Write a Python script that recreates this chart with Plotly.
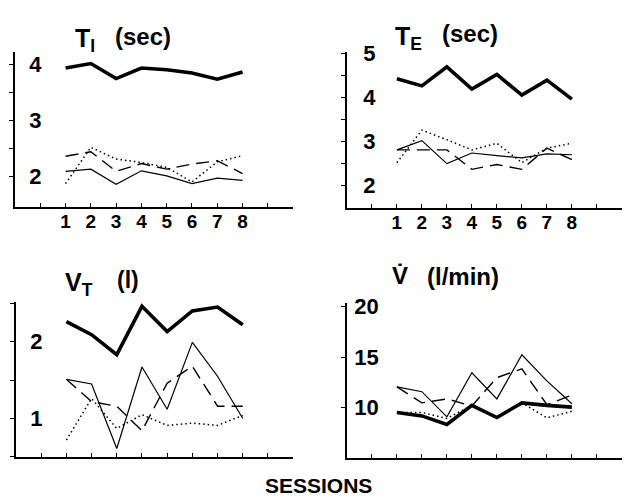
import plotly.graph_objects as go

sessions = [1, 2, 3, 4, 5, 6, 7, 8]

TI_thick = [3.94, 4.02, 3.75, 3.94, 3.91, 3.85, 3.74, 3.87]
TI_thin = [2.09, 2.13, 1.86, 2.10, 2.01, 1.87, 1.97, 1.93]
TI_dash = [2.36, 2.44, 2.09, 2.23, 2.13, 2.22, 2.28, 2.05]
TI_dot = [1.87, 2.52, 2.31, 2.25, 2.16, 1.90, 2.26, 2.37]

TE_thick = [4.42, 4.26, 4.69, 4.19, 4.52, 4.05, 4.39, 3.96]
TE_thin = [2.81, 3.02, 2.50, 2.74, 2.68, 2.63, 2.72, 2.70]
TE_dash = [2.81, 2.81, 2.81, 2.37, 2.48, 2.37, 2.85, 2.59]
TE_dot = [2.52, 3.26, 3.04, 2.81, 2.96, 2.52, 2.85, 2.96]

VT_thick = [2.26, 2.09, 1.83, 2.46, 2.13, 2.40, 2.45, 2.22]
VT_thin = [1.51, 1.45, 0.61, 1.67, 1.12, 1.99, 1.55, 1.00]
VT_dash = [1.51, 1.22, 1.16, 0.84, 1.46, 1.68, 1.16, 1.16]
VT_dot = [0.72, 1.26, 0.87, 1.05, 0.91, 0.94, 0.91, 1.04]

VE_thick = [9.52, 9.19, 8.35, 10.23, 9.03, 10.48, 10.23, 10.06]
VE_thin = [12.06, 11.58, 9.10, 13.45, 10.87, 15.23, 12.65, 10.39]
VE_dash = [12.06, 10.48, 10.87, 10.16, 12.97, 13.84, 10.29, 11.26]
VE_dot = [9.52, 9.52, 8.94, 10.23, 9.03, 10.48, 9.00, 9.65]

x_tickvals = [0, 1, 2, 3, 4, 5, 6, 7, 8, 9]
x_ticktext = ["", "1", "2", "3", "4", "5", "6", "7", "8", ""]

panels = [
    dict(series=[TI_thick, TI_thin, TI_dash, TI_dot],
         yrange=[1.456, 4.228], ytv=[2, 2.5, 3, 3.5, 4], ytt=["2", "", "3", "", "4"],
         xdom=[0.024, 0.469], ydom=[0.598, 0.916], xlabels=True, standoff=16),
    dict(series=[TE_thick, TE_thin, TE_dash, TE_dot],
         yrange=[1.5, 5.03], ytv=[2, 2.5, 3, 3.5, 4, 4.5, 5], ytt=["2", "", "3", "", "4", "", "5"],
         xdom=[0.555, 0.995], ydom=[0.596, 0.916], xlabels=True, standoff=18),
    dict(series=[VT_thick, VT_thin, VT_dash, VT_dot],
         yrange=[0.5, 2.51], ytv=[0.5, 1, 1.5, 2, 2.5], ytt=["", "1", "", "2", ""],
         xdom=[0.0256, 0.469], ydom=[0.0843, 0.4016], xlabels=False, standoff=16),
    dict(series=[VE_thick, VE_thin, VE_dash, VE_dot],
         yrange=[5.04, 20.3], ytv=[10, 15, 20], ytt=["10", "15", "20"],
         xdom=[0.555, 0.995], ydom=[0.0823, 0.3996], xlabels=False, standoff=9),
]

styles = [
    dict(color="black", width=3.6, dash="solid"),
    dict(color="black", width=1.2, dash="solid"),
    dict(color="black", width=1.4, dash="13px,7px"),
    dict(color="black", width=1.5, dash="1.5px,3px"),
]

fig = go.Figure()
FONT = "Liberation Sans, Arial, sans-serif"

for i, p in enumerate(panels, start=1):
    xa = "x" if i == 1 else f"x{i}"
    ya = "y" if i == 1 else f"y{i}"
    for s, st in zip(p["series"], styles):
        fig.add_trace(go.Scatter(x=sessions, y=s, mode="lines", line=st,
                                 xaxis=xa, yaxis=ya, showlegend=False,
                                 hoverinfo="skip"))
    xkey = "xaxis" if i == 1 else f"xaxis{i}"
    ykey = "yaxis" if i == 1 else f"yaxis{i}"
    fig.layout[xkey] = dict(
        domain=p["xdom"], range=[-1, 10], anchor=ya,
        showline=True, linecolor="black", linewidth=1.5,
        showgrid=False, zeroline=False,
        tickvals=x_tickvals,
        ticktext=x_ticktext if p["xlabels"] else [""] * len(x_tickvals),
        ticks="inside", ticklen=4, tickwidth=1, tickcolor="black",
        tickfont=dict(family=FONT, size=19, color="black", weight="bold"),
        ticklabelstandoff=-3,
    )
    fig.layout[ykey] = dict(
        domain=p["ydom"], range=p["yrange"], anchor=xa,
        showline=True, linecolor="black", linewidth=1.5,
        showgrid=False, zeroline=False,
        tickvals=p["ytv"], ticktext=p["ytt"],
        ticks="outside", ticklen=4, tickwidth=1, tickcolor="black",
        ticklabelposition="inside", ticklabeloverflow="allow",
        tickfont=dict(family=FONT, size=22, color="black", weight="bold"),
        ticklabelstandoff=p["standoff"],
    )

def ann(text, px, py, size, anchor="left"):
    fig.add_annotation(text=text, x=px / 625, y=1 - py / 498, xref="paper", yref="paper",
                       xanchor=anchor, yanchor="middle", showarrow=False,
                       font=dict(family=FONT, size=size, color="black", weight="bold"))

ann("T<sub>I</sub>", 73, 30, 25)
ann("(sec)", 113, 26, 24)
ann("T<sub>E</sub>", 393, 28, 25)
ann("(sec)", 440, 23, 24)
ann("V<sub>T</sub>", 63, 279, 25)
ann("(l)", 115, 275, 23)
ann("V\u0307", 390, 270, 24)
ann("(l/min)", 425, 272, 24)
ann("SESSIONS", 318, 485, 21, anchor="center")

fig.update_layout(width=625, height=498, margin=dict(l=0, r=0, t=0, b=0),
                  paper_bgcolor="white", plot_bgcolor="white")

fig.write_html("out.html", config={"displayModeBar": False},
               post_script="document.body.style.margin='0';document.body.style.overflow='hidden';")
